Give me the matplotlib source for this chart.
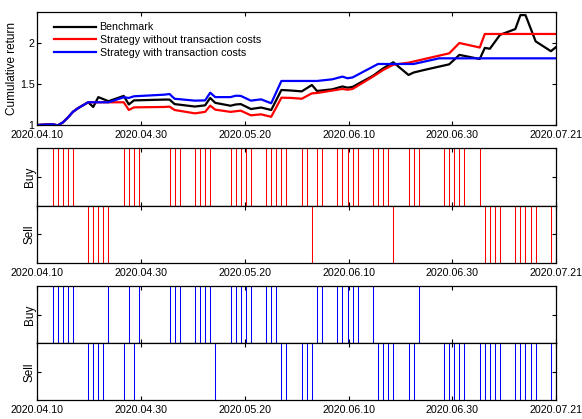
import numpy as np
import matplotlib
matplotlib.use('Agg')
import matplotlib.pyplot as plt

plt.rcParams['font.family'] = ['Liberation Sans', 'DejaVu Sans']

# x axis is the day index 0..102 (2020.04.10 .. 2020.07.21)
n_days = 103
tick_labels = ['2020.04.10', '2020.04.30', '2020.05.20', '2020.06.10', '2020.06.30', '2020.07.21']

bench_day = [0, 3, 4, 5, 6, 7, 8, 10, 11, 12, 14, 17, 18, 19, 25, 26, 27, 31, 33, 34, 35,
             38, 39, 40, 42, 44, 46, 48, 50, 52, 54, 55, 58, 60, 61, 62, 66, 68, 70, 73, 74,
             76, 81, 83, 87, 88, 89, 91, 94, 95, 96, 98, 101, 102]
bench_val = [1.0, 1.01, 0.995, 1.03, 1.09, 1.16, 1.205, 1.277, 1.22, 1.34, 1.29, 1.355, 1.25, 1.30,
             1.31, 1.31, 1.255, 1.225, 1.24, 1.33, 1.27, 1.235, 1.25, 1.255, 1.195, 1.213, 1.183,
             1.427, 1.42, 1.41, 1.488, 1.415, 1.435, 1.47, 1.455, 1.465, 1.60, 1.69, 1.765, 1.61,
             1.64, 1.67, 1.74, 1.855, 1.805, 1.94, 1.93, 2.10, 2.17, 2.34, 2.34, 2.02, 1.90, 1.95]

nocost_day = [0, 3, 4, 5, 6, 7, 8, 10, 17, 18, 19, 25, 26, 27, 31, 33, 34, 35, 38, 40, 42, 44,
              46, 48, 50, 52, 54, 55, 58, 60, 61, 62, 66, 68, 70, 73, 81, 83, 87, 88, 102]
nocost_val = [1.0, 1.01, 0.995, 1.03, 1.09, 1.16, 1.205, 1.277, 1.277, 1.183, 1.215, 1.22, 1.224,
              1.183, 1.142, 1.16, 1.236, 1.187, 1.16, 1.175, 1.118, 1.13, 1.10, 1.333, 1.33,
              1.32, 1.386, 1.39, 1.42, 1.44, 1.43, 1.44, 1.59, 1.67, 1.735, 1.76, 1.874, 2.0,
              1.945, 2.11, 2.11]

cost_day = [0, 3, 4, 5, 6, 7, 8, 10, 14, 17, 18, 19, 25, 26, 27, 31, 33, 34, 35, 38, 39, 40,
            42, 44, 46, 48, 55, 58, 60, 61, 62, 67, 74, 79, 102]
cost_val = [1.0, 1.01, 0.995, 1.03, 1.09, 1.16, 1.205, 1.277, 1.277, 1.338, 1.33, 1.35, 1.37,
            1.378, 1.32, 1.297, 1.30, 1.394, 1.34, 1.34, 1.357, 1.355, 1.297, 1.313, 1.265,
            1.537, 1.537, 1.557, 1.59, 1.57, 1.58, 1.744, 1.744, 1.813, 1.813]

# trading signals (day index)
nocost_buy = [0, 3, 4, 5, 6, 7, 17, 18, 19, 20, 26, 27, 28, 31, 32, 33, 34, 38, 39, 40, 41, 42,
              45, 46, 47, 48, 49, 52, 53, 55, 56, 59, 60, 61, 62, 63, 66, 67, 68, 69, 73, 74,
              75, 80, 81, 82, 83, 84, 87]
nocost_sell = [10, 11, 12, 13, 14, 54, 70, 88, 89, 90, 91, 94, 95, 96, 97, 98, 101, 102]

cost_buy = [0, 3, 4, 5, 6, 7, 14, 18, 20, 26, 27, 28, 31, 32, 33, 34, 38, 39, 40, 41, 42, 45,
            46, 47, 55, 56, 59, 60, 61, 62, 63, 66, 75]
cost_sell = [10, 11, 12, 13, 17, 19, 35, 48, 49, 52, 53, 54, 67, 68, 69, 70, 73, 74, 80, 81, 82,
             83, 84, 87, 88, 89, 90, 91, 94, 95, 96, 97, 98, 101, 102]

FS = 7.7
W, H = 582, 419
tick_pos = np.linspace(0, n_days - 1, 6)


def style_axis(ax, labels=True):
    ax.set_xlim(0, n_days - 1)
    ax.set_xticks(tick_pos)
    ax.set_xticklabels(tick_labels if labels else [])
    ax.tick_params(direction='in', top=True, right=True, length=3, width=0.8,
                   labelsize=FS, pad=2)
    ax.tick_params(axis='x', pad=3.5)
    for s in ax.spines.values():
        s.set_linewidth(0.9)


def px_axes(fig, top, bottom, left=37.3, right=556):
    return fig.add_axes([left / W, (H - bottom) / H, (right - left) / W, (bottom - top) / H])


def signal_panel(fig, top, mid, bottom, buy, sell, color):
    ax_b = px_axes(fig, top, mid)
    ax_s = px_axes(fig, mid, bottom)
    for ax, days, name in ((ax_b, buy, 'Buy'), (ax_s, sell, 'Sell')):
        ax.vlines(days, 0, 1, colors=color, lw=0.75)
        ax.set_ylim(0, 1)
        ax.set_yticks([0.5])
        ax.set_yticklabels([])
        ax.set_ylabel(name, fontsize=FS + 0.8, labelpad=-1)
    style_axis(ax_b, labels=False)
    style_axis(ax_s)


fig = plt.figure(figsize=(W / 100, H / 100), dpi=100)

ax = px_axes(fig, 12, 125)
ax.plot(bench_day, bench_val, color='k', lw=1.6, label='Benchmark')
ax.plot(nocost_day, nocost_val, color='r', lw=1.6, label='Strategy without transaction costs')
ax.plot(cost_day, cost_val, color='b', lw=1.6, label='Strategy with transaction costs')
ax.set_ylim(1, 2.378)
ax.set_yticks([1, 1.5, 2])
ax.set_yticklabels(['1', '1.5', '2'])
ax.set_ylabel('Cumulative return', fontsize=FS + 0.8, labelpad=1)
style_axis(ax)
ax.legend(loc='upper left', bbox_to_anchor=(0.019, 0.965), frameon=False, fontsize=FS,
          handlelength=4.0, handletextpad=0.3, labelspacing=0.25, borderaxespad=0.2)

signal_panel(fig, 148.5, 205.7, 262.7, nocost_buy, nocost_sell, 'r')
signal_panel(fig, 286.3, 343.3, 400.3, cost_buy, cost_sell, 'b')

fig.savefig('out.png', dpi=100)
